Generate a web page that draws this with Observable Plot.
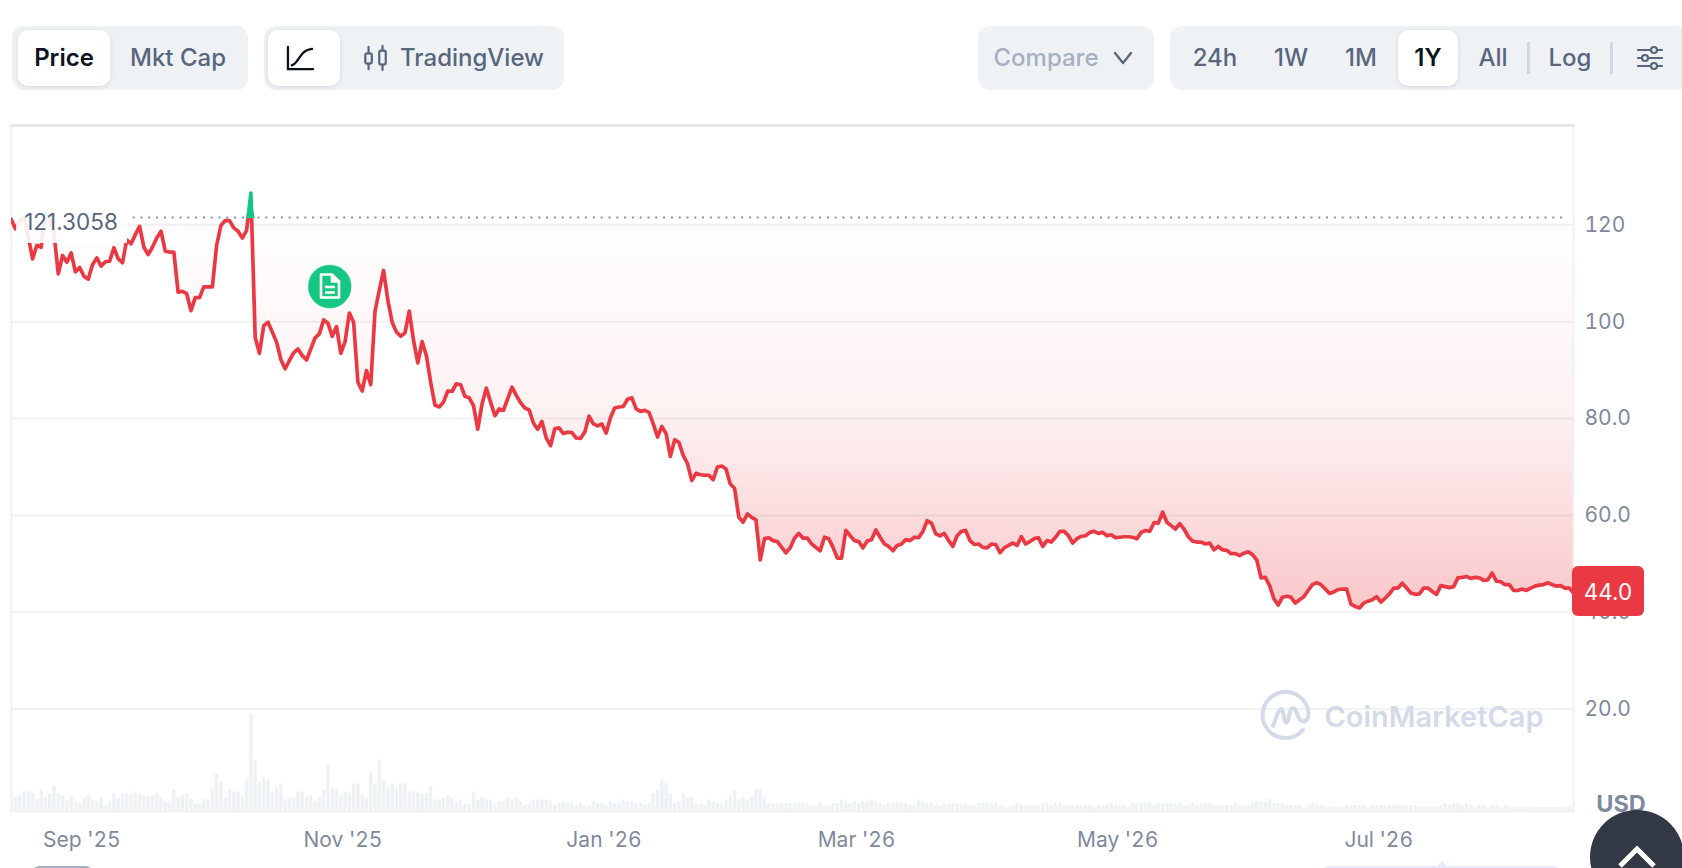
<!DOCTYPE html>
<html><head><meta charset="utf-8">
<script src="https://cdn.jsdelivr.net/npm/d3@7"></script>
<script src="https://cdn.jsdelivr.net/npm/@observablehq/plot@0.6"></script>
<style>
html,body{margin:0;padding:0;background:#fff;overflow:hidden;font-family:Inter,sans-serif}
#page{position:relative;width:1682px;height:868px;overflow:hidden}
#page>svg{position:absolute;left:0;top:0;background:transparent}
.a{position:absolute;display:flex;align-items:center;justify-content:center;white-space:nowrap}
.grp{background:#eff2f5;border-radius:12px;top:26px;height:64px}
.tab{background:#fff;border-radius:10px;top:30px;height:56px;box-shadow:0 1px 4px rgba(88,102,126,.18)}
.t{top:26px;height:62px;font-size:24px;font-weight:500;color:#58667e}
.sep{background:#cfd6e4;width:3px;top:42px;height:32px}
</style></head><body>
<div id="page">
 <div class="a grp" style="left:12px;width:236px"></div>
 <div class="a tab" style="left:18px;width:92px"></div>
 <div class="a t" style="left:18px;width:92px;color:#0d1421;font-weight:600">Price</div>
 <div class="a t" style="left:118px;width:120px">Mkt Cap</div>
 <div class="a grp" style="left:264px;width:300px"></div>
 <div class="a tab" style="left:268px;width:72px"></div>
 <svg style="left:286px;top:44px" width="29" height="28" viewBox="0 0 30 29" fill="none" stroke="#0d1421" stroke-width="2.4" stroke-linecap="round"><path d="M2 3V26H28"/><path d="M6 22C13 21 14 6 27 5"/></svg>
 <svg style="left:363px;top:43px" width="26" height="30" viewBox="0 0 28 30" fill="none" stroke="#58667e" stroke-width="2.4" stroke-linecap="round"><rect x="2.5" y="10" width="7" height="11" rx="2"/><rect x="17.5" y="7" width="7" height="15" rx="2"/><path d="M6 3V10M6 21V27M21 2V7M21 22V28"/></svg>
 <div class="a t" style="left:392px;width:160px">TradingView</div>
 <div class="a grp" style="left:978px;width:176px"></div>
 <div class="a t" style="left:994px;width:104px;color:#a6b0c3">Compare</div>
 <svg style="left:1112px;top:50px" width="22" height="16" viewBox="0 0 22 16" fill="none" stroke="#58667e" stroke-width="2.4" stroke-linecap="round" stroke-linejoin="round"><path d="M3 3L11 13L19 3"/></svg>
 <div class="a grp" style="left:1170px;width:520px"></div>
 <div class="a tab" style="left:1398px;width:60px"></div>
 <div class="a t" style="left:1190px;width:50px">24h</div>
 <div class="a t" style="left:1266px;width:50px">1W</div>
 <div class="a t" style="left:1336px;width:50px">1M</div>
 <div class="a t" style="left:1398px;width:60px;color:#0d1421;font-weight:600">1Y</div>
 <div class="a t" style="left:1468px;width:50px">All</div>
 <div class="a sep" style="left:1527px"></div>
 <div class="a t" style="left:1545px;width:50px">Log</div>
 <div class="a sep" style="left:1610px"></div>
 <svg style="left:1636px;top:44px" width="28" height="28" viewBox="0 0 28 28" fill="none" stroke="#58667e" stroke-width="2.2" stroke-linecap="round"><path d="M2 6H26M2 14H26M2 22H26"/><circle cx="18" cy="6" r="3" fill="#eff2f5"/><circle cx="9" cy="14" r="3" fill="#eff2f5"/><circle cx="18" cy="22" r="3" fill="#eff2f5"/></svg>
</div>
<script>
// Price per day; first entry lies just left of the frame.
const startDate = Date.UTC(2025, 7, 15, 12);
const prices = [121.2,
119.2,120.9,121.6,117.5,113.0,115.8,115.4,122.6,121.6,118.2,
109.9,113.7,112.3,114.2,110.3,111.2,109.4,108.8,111.8,113.2,
111.5,112.4,112.5,115.3,113.0,112.2,116.9,116.1,118.0,119.7,
115.4,113.9,115.4,117.3,118.7,114.6,114.4,114.4,106.1,106.3,
105.8,102.3,105.0,105.0,107.2,107.2,107.2,115.8,119.9,120.9,
120.9,119.4,118.7,117.3,118.9,126.6,96.8,93.5,99.2,99.9,
97.9,95.8,92.2,90.3,92.0,93.6,94.4,93.0,92.1,94.4,
96.7,97.5,100.4,99.7,97.0,99.0,93.5,95.9,101.8,99.9,
87.5,85.7,89.9,87.0,102.2,106.5,110.6,104.4,99.9,97.9,
97.0,97.7,102.2,96.1,91.5,95.9,93.0,87.5,82.8,82.4,
83.4,85.7,85.6,87.2,87.0,84.6,84.3,82.7,77.8,83.0,
86.3,83.4,80.6,82.0,81.7,84.1,86.5,84.8,83.3,82.2,
81.8,79.1,77.8,79.4,76.0,74.4,77.9,78.1,76.9,77.2,
77.1,76.0,75.9,77.2,80.5,78.9,78.5,78.9,77.0,80.2,
82.2,82.4,82.5,84.0,84.3,82.0,81.5,81.7,81.3,78.9,
76.2,78.4,76.9,72.2,75.6,75.1,72.4,70.7,67.2,68.7,
68.4,68.3,68.3,67.4,70.0,70.2,69.6,66.5,65.6,59.6,
58.6,60.3,59.6,59.1,50.8,55.2,55.4,54.8,54.6,53.4,
52.3,53.3,55.3,56.3,55.3,55.3,54.1,53.4,52.7,55.5,
55.2,53.4,51.2,51.2,56.9,55.8,54.8,54.6,53.3,54.7,
55.0,57.0,55.5,54.1,53.6,52.7,53.8,54.1,55.0,54.8,
55.5,55.4,56.7,58.9,58.4,56.2,55.8,56.3,54.8,53.6,
55.8,56.7,56.9,54.8,54.0,54.1,53.4,53.3,54.1,54.0,
52.3,53.3,53.8,54.3,53.8,55.6,54.1,54.6,55.2,55.4,
53.6,54.8,54.5,55.5,56.7,56.7,55.8,54.3,55.2,55.7,
55.8,56.5,56.7,56.3,56.5,55.8,56.0,55.4,55.5,55.6,
55.6,55.5,55.2,56.5,56.9,56.7,58.5,58.4,60.7,58.6,
57.9,57.2,58.3,57.2,55.6,54.7,54.5,54.5,54.1,54.3,
52.9,53.6,52.9,52.8,52.1,52.1,51.7,52.2,52.5,51.9,
50.8,47.1,47.2,45.5,42.8,41.5,43.1,43.3,43.1,41.9,
42.6,43.2,44.5,45.7,46.1,45.7,44.8,43.9,44.2,44.7,
44.8,44.8,41.7,41.2,40.9,41.9,42.3,42.6,43.2,42.1,
42.9,43.8,45.0,45.0,46.0,45.0,44.0,43.7,43.8,45.0,
45.0,44.3,43.7,45.5,45.3,45.1,45.3,47.1,47.2,47.4,
47.0,47.2,47.1,46.6,46.7,48.1,46.4,46.3,45.7,45.7,
44.5,44.5,44.8,44.5,45.0,45.4,45.6,45.7,46.1,45.7,
45.4,45.5,45.0,45.0,44.0];
// Relative daily volume (scale 0-290), first entry is the day after the off-frame point.
const volumes = [
38,43,55,55,50,31,61,38,50,73,49,43,31,43,25,19,37,43,31,25,37,13,25,49,37,49,49,49,55,49,
43,43,43,49,37,25,25,61,37,43,49,31,19,19,31,31,61,109,85,37,61,55,55,43,91,290,151,85,97,91,
55,67,79,31,37,37,55,55,37,43,25,37,61,133,67,61,43,55,49,79,79,43,37,115,79,151,91,67,79,67,
79,79,55,55,55,49,49,73,31,31,37,43,37,25,31,19,19,55,31,37,31,
31,18,26,26,37,31,38,26,15,20,31,31,31,31,26,15,20,26,20,20,15,20,13,13,26,20,20,15,26,20,20,31,26,26,20,20,15,20,
50,62,92,80,50,20,26,50,38,38,20,20,15,31,26,20,20,31,43,56,31,38,31,38,62,62,38,20,
20,20,20,20,20,20,20,20,20,13,13,26,13,13,20,20,31,26,20,26,20,26,26,31,26,20,15,20,20,20,20,20,
15,13,31,26,20,20,15,13,20,20,20,20,20,20,13,13,20,20,20,
20,20,14,8,8,14,20,14,14,14,14,14,20,20,14,20,20,14,14,14,
14,14,14,14,8,14,14,14,20,14,14,14,8,20,20,20,20,20,14,20,
20,20,20,20,20,14,14,20,14,20,20,20,14,14,14,14,14,20,14,14,
14,20,26,26,26,32,20,20,20,14,14,14,14,8,14,20,14,14,8,8,
8,8,8,14,14,14,14,14,8,14,14,14,14,14,14,14,14,14,14,14,
8,8,8,8,8,14,20,14,20,20,14,20,14,8,14,14,8,14,14,8,
14,8,8,8,8,8,8,8,8,8,8,8,8,8,8,8,8];
const baseline = 121.3058;
const yTicks = [20,40,60,80,100,120];
const yLabels = ["20.0","40.0","60.0","80.0","100","120"];
const monthTicks = ["2025-09-01","2025-11-01","2026-01-01","2026-03-01","2026-05-01","2026-07-01"];
const monthLabels = ["Sep '25","Nov '25","Jan '26","Mar '26","May '26","Jul '26"];
const events = [{day:"2025-10-28T22:00Z", price:107.3}];
const lastPrice = prices[prices.length-1];

const dayMs = 864e5;
const rows = prices.map((p,i)=>({date:new Date(startDate+i*dayMs), price:p}));
const volRows = volumes.map((v,i)=>({date:new Date(startDate+(i+1)*dayMs), vol:v}));
const xOpt = {type:"utc", domain:[new Date(startDate+0.07*dayMs), rows[rows.length-1].date]};
const size = {width:1682, height:868, marginLeft:11, marginRight:109, marginTop:125, marginBottom:57};
const red="#ea3943", green="#16c784", axisGrey="#808a9d";

const volPlot = Plot.plot({...size, x:{...xOpt, axis:null}, y:{domain:[0,290], range:[811,715], axis:null},
  marks:[Plot.ruleX(volRows,{x:"date",y1:0,y2:"vol",stroke:"#eff2f5",strokeWidth:3.5,strokeLinecap:"round",clip:true})]});

const tickDates = monthTicks.map(s=>new Date(s+"T00:00Z"));
const pricePlot = Plot.plot({...size, style:{fontFamily:"Inter,sans-serif",background:"transparent"},
  x:{...xOpt}, y:{domain:[-1.15,140.54], range:[811,125]},
  marks:[
    Plot.areaY(rows,{x:"date",y1:()=>baseline,y2:d=>Math.min(d.price,baseline),fill:"url(#areaRed)",clip:true}),
    Plot.areaY(rows,{x:"date",y1:()=>baseline,y2:d=>Math.max(d.price,baseline),fill:green,clip:true}),
    Plot.ruleY(yTicks,{stroke:"#3a4660",strokeOpacity:0.07,strokeWidth:2}),
    Plot.ruleY([baseline],{x1:new Date("2025-09-13T00:00Z"),x2:new Date("2026-08-14T00:00Z"),dy:-1,stroke:"#8a92a0",strokeWidth:2,strokeDasharray:"2,5.8"}),
    Plot.frame({stroke:"#f0f1f3",strokeWidth:2}),
    Plot.frame({anchor:"top",stroke:"#e6e7ea",strokeWidth:3}),
    Plot.lineY(rows,{x:"date",y:"price",stroke:"url(#lineSplit)",strokeWidth:3.7,strokeLinejoin:"round",strokeLinecap:"round",clip:true}),
    Plot.dot(events,{x:d=>new Date(d.day),y:"price",r:22.5,fill:green,stroke:"#fff",strokeOpacity:0.8,strokeWidth:2}),
    Plot.axisY({anchor:"right",ticks:yTicks,tickSize:0,tickPadding:11,label:null,fontSize:21,color:axisGrey,
      tickFormat:d=>yLabels[yTicks.indexOf(d)]}),
    Plot.axisX({anchor:"bottom",ticks:tickDates,tickSize:0,tickPadding:21,label:null,fontSize:21,color:axisGrey,
      tickFormat:d=>monthLabels[tickDates.findIndex(t=>+t===+d)]})
  ]});

// gradients positioned from the plot's own y scale
const yS = pricePlot.scale("y").apply;
const by = yS(baseline), fy = yS(d3.min(prices));
const defs = d3.select(pricePlot).insert("defs",":first-child");
const g1 = defs.append("linearGradient").attr("id","areaRed").attr("gradientUnits","userSpaceOnUse")
  .attr("x1",0).attr("x2",0).attr("y1",by).attr("y2",fy);
[[0,0.005],[0.28,0.04],[0.5,0.07],[0.7,0.15],[1,0.28]].forEach(([o,a])=>g1.append("stop").attr("offset",o).attr("stop-color",red).attr("stop-opacity",a));
const g2 = defs.append("linearGradient").attr("id","lineSplit").attr("gradientUnits","userSpaceOnUse")
  .attr("x1",0).attr("x2",0).attr("y1",by-1).attr("y2",by);
[[0,green],[0,green],[1,red]].forEach(([o,c])=>g2.append("stop").attr("offset",o).attr("stop-color",c));

const page = document.getElementById("page");
const first = page.firstChild;
page.insertBefore(volPlot, first);
page.insertBefore(pricePlot, first);

function html(s){const t=document.createElement("template");t.innerHTML=s.trim();page.appendChild(t.content.firstChild);}
// baseline label with translucent backing
html(`<div class="a" style="left:16px;top:205px;width:111px;height:38px;background:rgba(255,255,255,.9);"></div>`);
html(`<div class="a" style="left:19px;top:205px;width:104px;height:32px;font-size:22.5px;color:#58667e">${baseline}</div>`);
// event icon
html(`<svg style="position:absolute;left:316px;top:272px" width="28" height="28" viewBox="0 0 28 28" fill="none" stroke="#fff" stroke-width="2.6" stroke-linejoin="round"><path d="M5 2.5H16L23 9.5V25.5H5Z"/><path d="M16 2.5V9.5H23" fill="#fff"/><path d="M9 15H19M9 20.5H19"/></svg>`);
// last price tag
const tagTop = yS(lastPrice)-26;
html(`<div class="a" style="left:1572px;top:${tagTop}px;width:72px;height:50px;background:${red};border-radius:6px;color:#fff;font-size:22.5px">${lastPrice.toFixed(1)}</div>`);
// watermark
html(`<svg style="position:absolute;left:1258px;top:686px" width="56" height="56" viewBox="0 0 56 56" fill="none" stroke="#d3dae8" stroke-width="4" stroke-linecap="round" stroke-linejoin="round"><path d="M45 44A23 23 0 1 1 50.5 27C50.5 37 43 38 40 30L38 25C36 21 33 21 32 26L30 34C29 38 27 37 26 32L25 26C24 22 22 22 20 27L15 40"/></svg>`);
html(`<div class="a" style="left:1322px;top:696px;width:224px;height:40px;font-size:29px;font-weight:600;color:#d3dae8">CoinMarketCap</div>`);
// footer pieces
html(`<div class="a" style="left:1596px;top:790px;width:50px;height:26px;font-size:23.5px;font-weight:700;color:${axisGrey}">USD</div>`);
html(`<div class="a" style="left:33px;top:866px;width:59px;height:12px;border-radius:6px;background:#a6b0c3"></div>`);
html(`<div class="a" style="left:1323px;top:866px;width:237px;height:12px;border-radius:6px;background:#e6ebfb"></div>`);
html(`<svg style="position:absolute;left:1432px;top:860px" width="20" height="8" viewBox="0 0 20 8"><path d="M3 8L10 1L17 8Z" fill="#e6ebfb"/></svg>`);
html(`<div style="position:absolute;left:1590px;top:810px;width:94px;height:94px;border-radius:50%;background:#323844"></div>`);
html(`<svg style="position:absolute;left:1612px;top:842px" width="50" height="26" viewBox="0 0 50 26" fill="none" stroke="#fff" stroke-width="5"><path d="M8 24L25 7L42 24"/></svg>`);
</script>
</body></html>
